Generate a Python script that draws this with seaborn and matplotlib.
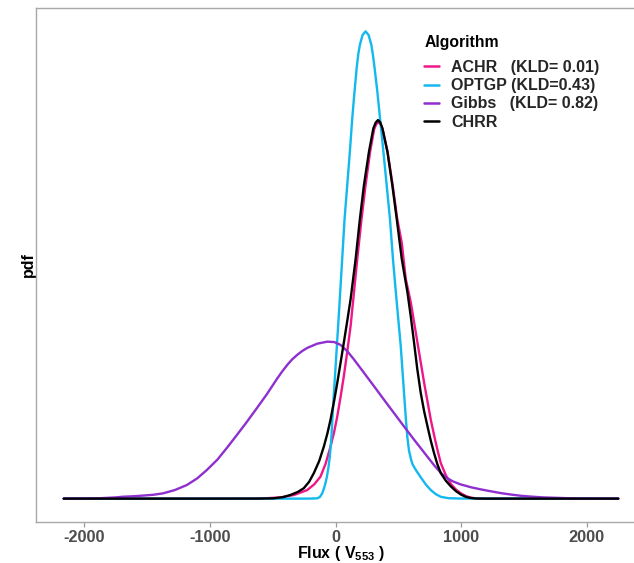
import numpy as np
import pandas as pd
import matplotlib
matplotlib.use("Agg")
import matplotlib.pyplot as plt
import seaborn as sns

# ---------------- data ----------------
algorithms = ["ACHR", "OPTGP", "Gibbs", "CHRR"]
legend_labels = ["ACHR   (KLD= 0.01)", "OPTGP (KLD=0.43)", "Gibbs   (KLD= 0.82)", "CHRR"]
legend_title = "Algorithm"
line_colors = ["#F0168A", "#12B8EE", "#8E2FCF", "#000000"]
x_ticks = [-2000, -1000, 0, 1000, 2000]

# pdf values in units of 1e-3
achr_flux = [-2163, -678, -550, -439, -330, -226, -170, -120, -80, -40, -12, 14, 40, 66,
             93, 120, 146, 173, 207, 239, 275, 307, 325, 343, 360, 375, 415, 455, 491,
             527, 559, 599, 652, 705, 758, 785, 811, 838, 878, 918, 958, 998, 1040, 1077,
             1120, 1200, 2250]
achr_pdf = [0.0, 0.0005, 0.002, 0.006, 0.018, 0.042, 0.070, 0.108, 0.170, 0.256, 0.325,
            0.405, 0.500, 0.602, 0.722, 0.849, 1.010, 1.179, 1.376, 1.541, 1.706, 1.816,
            1.843, 1.850, 1.840, 1.816, 1.702, 1.539, 1.376, 1.258, 1.080, 0.965, 0.767,
            0.570, 0.388, 0.310, 0.240, 0.174, 0.115, 0.072, 0.045, 0.026, 0.012, 0.005,
            0.001, 0.0, 0.0]

optgp_flux = [-2163, -279, -200, -146, -125, -106, -92, -80, -68, -56, -45, -33, -21, 4,
              29, 53, 72, 93, 114, 133, 150, 168, 182, 194, 215, 239, 263, 285, 298, 311,
              333, 354, 381, 407, 433, 457, 475, 492, 519, 545, 560, 572, 585, 600, 612,
              640, 678, 718, 758, 798, 838, 900, 998, 2250]
optgp_pdf = [0.0, 0.0, 0.0003, 0.0015, 0.008, 0.026, 0.050, 0.076, 0.110, 0.155, 0.210,
             0.300, 0.437, 0.685, 0.932, 1.179, 1.376, 1.541, 1.706, 1.870, 1.994, 2.117,
             2.190, 2.232, 2.280, 2.298, 2.280, 2.232, 2.180, 2.117, 2.000, 1.870, 1.706,
             1.541, 1.376, 1.179, 1.050, 0.932, 0.750, 0.520, 0.390, 0.300, 0.235, 0.195,
             0.170, 0.140, 0.105, 0.070, 0.042, 0.022, 0.009, 0.002, 0.0005, 0.0]

gibbs_flux = [-2163, -2000, -1875, -1750, -1692, -1600, -1532, -1450, -1373, -1280, -1183,
              -1100, -1024, -940, -864, -785, -705, -625, -545, -465, -425, -385, -345,
              -305, -265, -226, -146, -66, -10, 40, 95, 146, 225, 306, 385, 465, 545, 625,
              730, 790, 838, 880, 930, 990, 1077, 1160, 1237, 1317, 1397, 1476, 1556,
              1656, 1756, 1855, 1955, 2100, 2250]
gibbs_pdf = [0.0, 0.001, 0.002, 0.006, 0.0094, 0.012, 0.015, 0.019, 0.026, 0.042, 0.067,
             0.100, 0.141, 0.192, 0.250, 0.313, 0.378, 0.446, 0.515, 0.590, 0.625, 0.657,
             0.685, 0.707, 0.726, 0.741, 0.762, 0.772, 0.770, 0.756, 0.724, 0.685, 0.620,
             0.553, 0.487, 0.421, 0.355, 0.290, 0.207, 0.160, 0.127, 0.104, 0.086, 0.071,
             0.056, 0.045, 0.036, 0.027, 0.020, 0.014, 0.010, 0.006, 0.004, 0.002, 0.001,
             0.0003, 0.0]

chrr_flux = [-2163, -1077, -600, -495, -420, -359, -300, -253, -210, -173, -130, -93, -65,
             -40, -12, 14, 40, 66, 93, 120, 140, 160, 194, 226, 266, 301, 320, 338, 356,
             373, 413, 452, 487, 527, 550, 572, 600, 625, 650, 678, 705, 732, 758, 784,
             810, 838, 878, 918, 958, 998, 1040, 1077, 1120, 1200, 2250]
chrr_pdf = [0.0, 0.0, 0.0003, 0.0015, 0.007, 0.018, 0.033, 0.051, 0.083, 0.125, 0.185,
            0.256, 0.320, 0.388, 0.478, 0.570, 0.668, 0.767, 0.873, 0.981, 1.080, 1.179,
            1.376, 1.541, 1.706, 1.821, 1.850, 1.862, 1.850, 1.821, 1.706, 1.541, 1.376,
            1.179, 1.095, 1.016, 0.890, 0.767, 0.640, 0.520, 0.430, 0.355, 0.285, 0.224,
            0.170, 0.125, 0.088, 0.060, 0.037, 0.020, 0.008, 0.003, 0.0005, 0.0, 0.0]

series = {
    "ACHR": (achr_flux, achr_pdf),
    "OPTGP": (optgp_flux, optgp_pdf),
    "Gibbs": (gibbs_flux, gibbs_pdf),
    "CHRR": (chrr_flux, chrr_pdf),
}
frames = []
for name in algorithms:
    fx, fy = series[name]
    frames.append(pd.DataFrame({"flux": fx, "pdf": fy, "Algorithm": name}))
df = pd.concat(frames, ignore_index=True)

# ---------------- styling ----------------
sns.set_theme(style="white")
plt.rcParams["font.family"] = ["Liberation Sans", "DejaVu Sans"]
plt.rcParams["mathtext.fontset"] = "custom"
plt.rcParams["mathtext.rm"] = "Liberation Sans:bold"
plt.rcParams["mathtext.it"] = "Liberation Sans:bold"
plt.rcParams["mathtext.bf"] = "Liberation Sans:bold"

W, H = 634, 563
fig = plt.figure(figsize=(W / 100, H / 100), dpi=100)
fig.patch.set_facecolor("white")
ax = fig.add_axes([36 / W, (H - 522) / H, (646 - 36) / W, (522 - 8) / H])

palette = dict(zip(algorithms, line_colors))
sns.lineplot(data=df, x="flux", y="pdf", hue="Algorithm", hue_order=algorithms,
             palette=palette, sort=False, estimator=None, units="Algorithm",
             linewidth=1.7, ax=ax, legend=True)
for ln in ax.get_lines():
    ln.set_solid_joinstyle("round")

xmin, xmax = df["flux"].min(), df["flux"].max()
xpad = 0.05 * (xmax - xmin)
ax.set_xlim(xmin - xpad, xmax + xpad)
ymax = df["pdf"].max()
ax.set_ylim(-0.05 * ymax, ymax * 1.05)

ax.set_xticks(x_ticks)
ax.set_xticklabels([str(t) for t in x_ticks])
ax.set_yticks([])
ax.tick_params(axis="x", which="both", bottom=True, length=3.5, width=0.9,
               color="#9a9a9a", pad=2.5, labelsize=11.8, labelcolor="#4d4d4d")
for lab in ax.get_xticklabels():
    lab.set_fontweight("bold")

for side, sp in ax.spines.items():
    sp.set_color("#a8a8a8")
    sp.set_linewidth(1.0)
    sp.set_visible(True)

ax.set_xlabel(r"Flux ( V$_{553}$ )", fontsize=11.5, fontweight="bold", color="black",
              labelpad=-1)
ax.set_ylabel("pdf", fontsize=11.5, fontweight="bold", color="black", labelpad=0)

handles, _ = ax.get_legend_handles_labels()
if ax.get_legend() is not None:
    ax.get_legend().remove()

fig.text(425 / W, 1 - 42 / H, legend_title, ha="left", va="center",
         fontsize=11.3, fontweight="bold", color="black")
leg = fig.legend(handles[:4], legend_labels,
                 loc="upper left", bbox_to_anchor=(424 / W, 1 - 60 / H),
                 frameon=False, fontsize=11.5,
                 handlelength=0.95, handletextpad=0.75, labelspacing=0.2,
                 borderpad=0, borderaxespad=0)
for t in leg.get_texts():
    t.set_fontweight("bold")
for h in leg.legend_handles:
    h.set_linewidth(1.8)

fig.savefig("out.png", dpi=100, facecolor="white")
